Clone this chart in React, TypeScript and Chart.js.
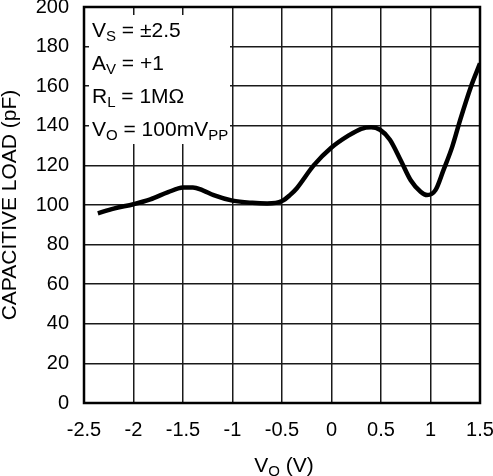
import { useEffect, useRef } from "react";
import { Chart, registerables } from "chart.js";

Chart.register(...registerables);

const voltage = [
  -2.36, -2.2, -2.0, -1.83, -1.65, -1.5, -1.4, -1.3, -1.19, -1.0, -0.8, -0.65,
  -0.5, -0.42, -0.35, -0.18, 0.0, 0.17, 0.3, 0.4, 0.49, 0.59, 0.7, 0.8, 0.9,
  0.965, 1.05, 1.13, 1.22, 1.3, 1.41, 1.5,
];
const capacitance = [
  95.8, 98.2, 100.4, 102.8, 106.5, 108.8, 108.9, 107.4, 105, 102.2, 101.1,
  100.8, 102, 105, 108.5, 120, 129, 135, 138.5, 139.3, 138, 133, 122.5, 112.5,
  106.7, 105, 107.5, 117.5, 129.5, 143, 160, 171.5,
];

const xTicks = [-2.5, -2, -1.5, -1, -0.5, 0, 0.5, 1, 1.5];
const yTicks = [0, 20, 40, 60, 80, 100, 120, 140, 160, 180, 200];

type Seg = { text: string; sub?: boolean };
const annotationLines: Seg[][] = [
  [{ text: "V" }, { text: "S", sub: true }, { text: " = ±2.5" }],
  [{ text: "A" }, { text: "V", sub: true }, { text: " = +1" }],
  [{ text: "R" }, { text: "L", sub: true }, { text: " = 1MΩ" }],
  [{ text: "V" }, { text: "O", sub: true }, { text: " = 100mV" }, { text: "PP", sub: true }],
];
const xTitle: Seg[] = [{ text: "V" }, { text: "O", sub: true }, { text: " (V)" }];
const yTitle = "CAPACITIVE LOAD (pF)";

const FAMILY = '"Liberation Sans", Arial, Helvetica, sans-serif';
const MAIN = 21;
const SUB = 15;

function segWidth(ctx: CanvasRenderingContext2D, segs: Seg[]) {
  let w = 0;
  for (const s of segs) {
    ctx.font = `${s.sub ? SUB : MAIN}px ${FAMILY}`;
    w += ctx.measureText(s.text).width;
  }
  return w;
}

function drawSegs(ctx: CanvasRenderingContext2D, segs: Seg[], x: number, y: number) {
  let cx = x;
  for (const s of segs) {
    ctx.font = `${s.sub ? SUB : MAIN}px ${FAMILY}`;
    ctx.fillText(s.text, cx, s.sub ? y + 4 : y);
    cx += ctx.measureText(s.text).width;
  }
}

const decorPlugin = {
  id: "decor",
  afterDatasetsDraw(chart: any) {
    const ctx: CanvasRenderingContext2D = chart.ctx;
    const { left, top, right, bottom } = chart.chartArea;
    ctx.save();
    // annotation background
    ctx.fillStyle = "#ffffff";
    ctx.fillRect(left + 5, top + 8, 141, 129);
    ctx.fillStyle = "#000000";
    ctx.textBaseline = "alphabetic";
    ctx.textAlign = "left";
    annotationLines.forEach((line, i) => {
      drawSegs(ctx, line, left + 8, top + 29.5 + i * 33);
    });
    // frame
    ctx.strokeStyle = "#000000";
    ctx.lineWidth = 2.5;
    ctx.strokeRect(left, top, right - left, bottom - top);
    // x title
    const w = segWidth(ctx, xTitle);
    drawSegs(ctx, xTitle, (left + right) / 2 + 2 - w / 2, 472);
    ctx.restore();
  },
};

export default function App() {
  const ref = useRef<HTMLCanvasElement | null>(null);
  useEffect(() => {
    document.body.style.margin = "0";
    const canvas = ref.current;
    if (!canvas) return;
    const chart = new Chart(canvas, {
      type: "line",
      data: {
        datasets: [
          {
            data: voltage.map((v, i) => ({ x: v, y: capacitance[i] })),
            borderColor: "#000000",
            borderWidth: 4.5,
            pointRadius: 0,
            fill: false,
            cubicInterpolationMode: "monotone",
          },
        ],
      },
      options: {
        animation: false,
        responsive: false,
        devicePixelRatio: 1,
        layout: { padding: { top: 7, right: 13, left: 0, bottom: 0 } },
        plugins: { legend: { display: false }, tooltip: { enabled: false } },
        scales: {
          x: {
            type: "linear",
            min: -2.5,
            max: 1.5,
            afterBuildTicks: (scale: any) => {
              scale.ticks = xTicks.map((v) => ({ value: v }));
            },
            afterFit: (scale: any) => {
              scale.height = 73;
              scale.paddingLeft = 0;
              scale.paddingRight = 0;
            },
            grid: { color: "#1a1a1a", lineWidth: 1.5, drawTicks: false },
            border: { display: false },
            ticks: {
              color: "#000000",
              padding: 15,
              maxRotation: 0,
              autoSkip: false,
              font: { family: FAMILY, size: 20 },
              callback: (v: any) => String(v),
            },
          },
          y: {
            type: "linear",
            min: 0,
            max: 200,
            afterBuildTicks: (scale: any) => {
              scale.ticks = yTicks.map((v) => ({ value: v }));
            },
            afterFit: (scale: any) => {
              scale.width = 84;
              scale.paddingTop = 0;
              scale.paddingBottom = 0;
            },
            grid: { color: "#1a1a1a", lineWidth: 1.5, drawTicks: false },
            border: { display: false },
            ticks: {
              color: "#000000",
              padding: 15,
              autoSkip: false,
              font: { family: FAMILY, size: 20 },
              callback: (v: any) => String(v),
            },
            title: {
              display: true,
              text: yTitle,
              color: "#000000",
              padding: { top: 0, bottom: 0 },
              font: { family: FAMILY, size: 21, lineHeight: 1 },
            },
          },
        },
      },
      plugins: [decorPlugin],
    });
    return () => chart.destroy();
  }, []);
  return (
    <div style={{ width: 493, height: 476, background: "#ffffff" }}>
      <canvas ref={ref} width={493} height={476} style={{ display: "block" }} />
    </div>
  );
}
